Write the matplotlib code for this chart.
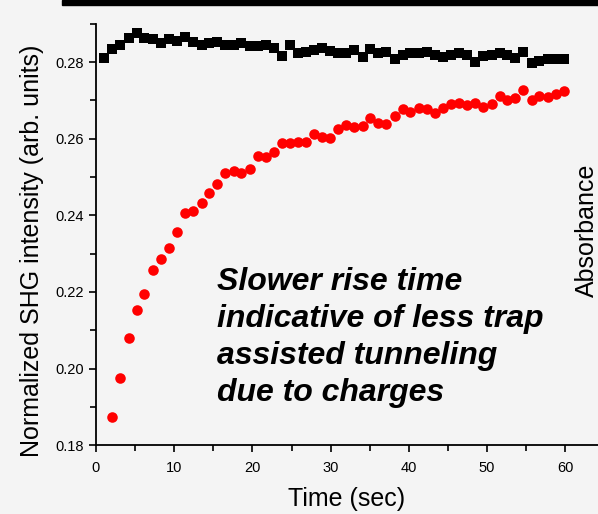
import matplotlib.pyplot as plt
from matplotlib.ticker import MultipleLocator

plt.rcParams['font.family'] = ['Liberation Sans', 'DejaVu Sans']

# --- data ---
red_time = [2.1, 3.1, 4.2, 5.2, 6.2, 7.3, 8.3, 9.3, 10.3, 11.4,
            12.4, 13.5, 14.5, 15.5, 16.5, 17.6, 18.6, 19.7, 20.7, 21.7,
            22.7, 23.8, 24.8, 25.8, 26.9, 27.9, 28.9, 29.9, 31.0, 32.0,
            33.0, 34.1, 35.1, 36.1, 37.1, 38.2, 39.2, 40.2, 41.3, 42.3,
            43.4, 44.4, 45.4, 46.4, 47.5, 48.5, 49.5, 50.6, 51.6, 52.6,
            53.6, 54.6, 55.7, 56.7, 57.8, 58.8, 59.9]
red_shg = [0.1875, 0.1976, 0.2080, 0.2154, 0.2194, 0.2257, 0.2286, 0.2316, 0.2356, 0.2405,
           0.2411, 0.2431, 0.2458, 0.2482, 0.2511, 0.2516, 0.2511, 0.2520, 0.2556, 0.2551,
           0.2564, 0.2588, 0.2590, 0.2591, 0.2591, 0.2612, 0.2605, 0.2601, 0.2625, 0.2636,
           0.2630, 0.2634, 0.2655, 0.2640, 0.2638, 0.2660, 0.2677, 0.2670, 0.2679, 0.2677,
           0.2666, 0.2679, 0.2690, 0.2693, 0.2688, 0.2693, 0.2682, 0.2691, 0.2712, 0.2701,
           0.2706, 0.2726, 0.2701, 0.2712, 0.2710, 0.2716, 0.2724]

black_time = [1.0, 2.1, 3.1, 4.2, 5.2, 6.2, 7.3, 8.3, 9.3, 10.3, 11.4,
              12.4, 13.5, 14.5, 15.5, 16.5, 17.6, 18.6, 19.7, 20.7, 21.7,
              22.7, 23.8, 24.8, 25.8, 26.9, 27.9, 28.9, 29.9, 31.0, 32.0,
              33.0, 34.1, 35.1, 36.1, 37.1, 38.2, 39.2, 40.2, 41.3, 42.3,
              43.4, 44.4, 45.4, 46.4, 47.5, 48.5, 49.5, 50.6, 51.6, 52.6,
              53.6, 54.6, 55.7, 56.7, 57.8, 58.8, 59.9]
black_shg = [0.2810, 0.2833, 0.2844, 0.2862, 0.2876, 0.2862, 0.2859, 0.2849, 0.2859, 0.2856,
             0.2866, 0.2853, 0.2844, 0.2850, 0.2853, 0.2844, 0.2844, 0.2849, 0.2842, 0.2842,
             0.2844, 0.2836, 0.2816, 0.2844, 0.2823, 0.2827, 0.2831, 0.2836, 0.2830, 0.2823,
             0.2824, 0.2831, 0.2812, 0.2833, 0.2824, 0.2827, 0.2807, 0.2818, 0.2823, 0.2824,
             0.2825, 0.2818, 0.2814, 0.2818, 0.2823, 0.2818, 0.2801, 0.2816, 0.2818, 0.2823,
             0.2818, 0.2810, 0.2827, 0.2798, 0.2803, 0.2807, 0.2807, 0.2808]

note = "Slower rise time\nindicative of less trap\nassisted tunneling\ndue to charges"

# --- figure ---
W, H = 598, 514
fig = plt.figure(figsize=(W / 100, H / 100), dpi=100, facecolor='#f4f4f4')
ax = fig.add_axes([96 / W, (H - 445.3) / H, (W - 96) / W, (445.3 - 23.7) / H])
ax.set_facecolor('none')

ax.plot(black_time, black_shg, 's', color='black', markersize=6.6, markeredgewidth=0)
ax.plot(red_time, red_shg, 'o', color='#ff0000', markersize=7.6, markeredgewidth=0)

ax.set_xlim(0, (W - 96) / 7.82)
ax.set_ylim(0.18, 0.29)
ax.xaxis.set_major_locator(MultipleLocator(10))
ax.xaxis.set_minor_locator(MultipleLocator(5))
ax.yaxis.set_major_locator(MultipleLocator(0.02))
ax.yaxis.set_minor_locator(MultipleLocator(0.01))
ax.yaxis.set_major_formatter(plt.FuncFormatter(lambda v, p: f'{v:.2f}'))
ax.tick_params(which='major', direction='out', length=5, width=1.2, labelsize=10.5, pad=4)
ax.tick_params(axis='x', which='major', pad=6)
ax.tick_params(which='minor', direction='out', length=4, width=1.2)
for s in ['top', 'right']:
    ax.spines[s].set_visible(False)
for s in ['left', 'bottom']:
    ax.spines[s].set_linewidth(1.3)

ax.set_xlabel('Time (sec)', fontsize=18, labelpad=9)
ax.set_ylabel('Normalized SHG intensity (arb. units)', fontsize=18)
ax.yaxis.set_label_coords(-0.104, 0.461)

fig.text(217 / W, 1 - 267 / H, note, fontsize=23, fontweight='bold', fontstyle='italic',
         va='top', ha='left', linespacing=1.31)
fig.text(587 / W, 1 - 230 / H, 'Absorbance', fontsize=18, rotation=90, va='center', ha='center')

# black bar at the top edge
fig.patches.append(plt.Rectangle((62 / W, 1 - 4.5 / H), 1, 4.5 / H, transform=fig.transFigure,
                                 color='black', zorder=5))

plt.savefig('out.png', dpi=100, facecolor=fig.get_facecolor())
